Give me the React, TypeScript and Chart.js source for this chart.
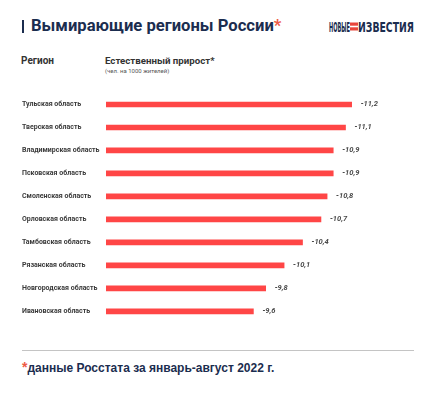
import React, { useEffect, useRef } from "react";
import { Chart, registerables } from "chart.js";

Chart.register(...registerables);

const regions = [
  "Тульская область",
  "Тверская область",
  "Владимирская область",
  "Псковская область",
  "Смоленская область",
  "Орловская область",
  "Тамбовская область",
  "Рязанская область",
  "Новгородская область",
  "Ивановская область",
];
const growth = [-11.2, -11.1, -10.9, -10.9, -10.8, -10.7, -10.4, -10.1, -9.8, -9.6];
const axisMin = 7.2;
const axisMax = 12.15;

const NAVY = "#1b2d4f";
const RED = "#ff4646";

const valueLabels = {
  id: "valueLabels",
  afterDatasetsDraw(chart: any) {
    const ctx = chart.ctx;
    const meta = chart.getDatasetMeta(0);
    ctx.save();
    ctx.font = "italic bold 7.5px Roboto";
    ctx.fillStyle = "#4a4a4a";
    ctx.textAlign = "left";
    ctx.textBaseline = "middle";
    meta.data.forEach((bar: any, i: number) => {
      const txt = growth[i].toFixed(1).replace(".", ",");
      ctx.fillText(txt, bar.x + 9, bar.y);
    });
    ctx.restore();
  },
};

export default function App() {
  const ref = useRef<HTMLCanvasElement | null>(null);
  useEffect(() => {
    document.body.style.margin = "0";
    const chart = new Chart(ref.current as HTMLCanvasElement, {
      type: "bar",
      data: {
        labels: regions,
        datasets: [
          {
            data: growth.map((v) => Math.abs(v)),
            backgroundColor: RED,
            barThickness: 5,
            borderWidth: 0,
          },
        ],
      },
      options: {
        indexAxis: "y",
        animation: false,
        responsive: false,
        maintainAspectRatio: false,
        layout: { padding: { left: 22, right: 24, top: 13, bottom: 3.6 } },
        plugins: { legend: { display: false }, tooltip: { enabled: false } },
        scales: {
          x: { display: false, min: axisMin, max: axisMax },
          y: {
            grid: { display: false },
            border: { display: false },
            ticks: {
              crossAlign: "far",
              color: "#3a3a3a",
              font: { family: "Roboto", size: 7, weight: "bold" },
            },
            afterFit(scale: any) {
              scale.width = 84;
            },
          },
        },
      },
      plugins: [valueLabels],
    } as any);
    return () => chart.destroy();
  }, []);

  return (
    <div
      style={{
        position: "absolute",
        left: 0,
        top: 0,
        width: 434,
        height: 393,
        background: "#fff",
        fontFamily: "Roboto",
        overflow: "hidden",
      }}
    >
      <div style={{ position: "absolute", left: 22, top: 20, width: 2, height: 13, background: NAVY }} />
      <div
        style={{
          position: "absolute",
          left: 31,
          top: 13,
          fontSize: 16.6,
          fontWeight: 700,
          color: NAVY,
          whiteSpace: "nowrap",
          lineHeight: "26px",
        }}
      >
        Вымирающие регионы России<span style={{ color: "#ee5a45" }}>*</span>
      </div>
      <svg
        width={90}
        height={16}
        style={{ position: "absolute", left: 328, top: 19 }}
      >
        <text
          x={1}
          y={13}
          textLength={21}
          lengthAdjust="spacingAndGlyphs"
          fontFamily="DejaVu Sans"
          fontWeight={700}
          fontSize={14}
          fill={NAVY}
        >
          НОВЫЕ
        </text>
        <rect x={22} y={3.5} width={8} height={3.2} fill="#e8463c" />
        <rect x={22} y={8.3} width={8} height={3.2} fill="#e8463c" />
        <text
          x={30}
          y={13}
          textLength={56}
          lengthAdjust="spacingAndGlyphs"
          fontFamily="DejaVu Sans"
          fontWeight={700}
          fontSize={14}
          fill={NAVY}
        >
          ИЗВЕСТИЯ
        </text>
      </svg>
      <div style={{ position: "absolute", left: 21, top: 55, fontSize: 10, fontWeight: 700, color: "#333" }}>
        Регион
      </div>
      <div style={{ position: "absolute", left: 105, top: 55, fontSize: 9.7, fontWeight: 700, color: "#333" }}>
        Естественный прирост*
      </div>
      <div style={{ position: "absolute", left: 105, top: 67, fontSize: 6, color: "#555" }}>
        (чел. на 1000 жителей)
      </div>
      <canvas
        ref={ref}
        width={434}
        height={250}
        style={{ position: "absolute", left: 0, top: 80, width: 434, height: 250 }}
      />
      <div style={{ position: "absolute", left: 22, top: 350, width: 392, height: 1, background: "#c4c4c4" }} />
      <div
        style={{
          position: "absolute",
          left: 22,
          top: 359,
          fontSize: 12,
          fontWeight: 700,
          color: NAVY,
          fontFamily: "Liberation Sans, Arial",
          whiteSpace: "nowrap",
        }}
      >
        <span style={{ color: "#ee5a45", fontSize: 14 }}>*</span>данные Росстата за январь-август 2022 г.
      </div>
    </div>
  );
}
